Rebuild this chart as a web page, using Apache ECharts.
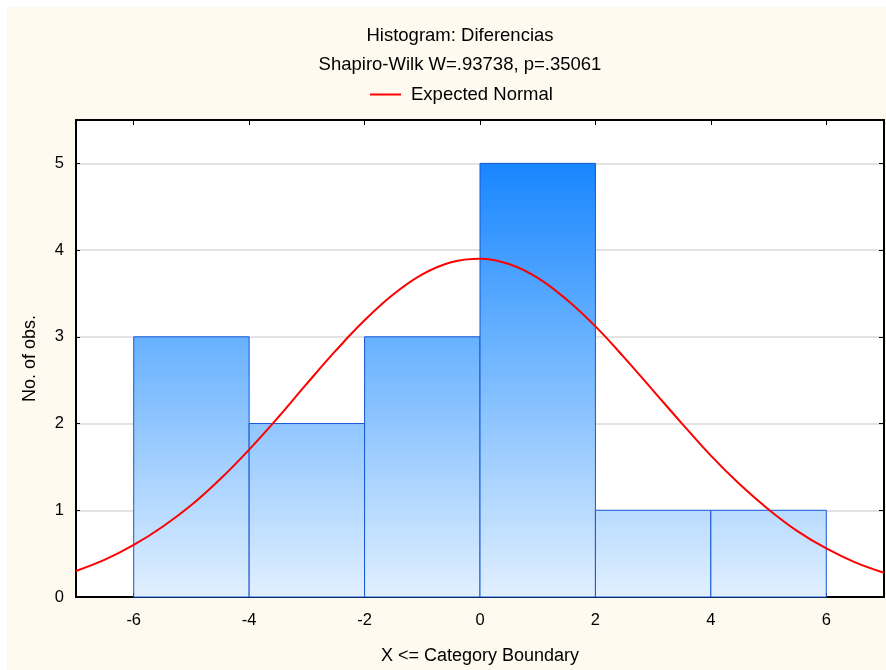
<!DOCTYPE html>
<html>
<head>
<meta charset="utf-8">
<script src="https://cdn.jsdelivr.net/npm/echarts@6/dist/echarts.min.js"></script>
<style>
html,body{margin:0;padding:0;background:#ffffff;}
#c{width:886px;height:670px;}
</style>
</head>
<body>
<div id="c"></div>
<script>
// Histogram bins: [lower boundary, upper boundary]
const binStarts = [-6, -4, -2, 0, 2, 4];
const binEnds   = [-4, -2, 0, 2, 4, 6];
const counts    = [3, 2, 3, 5, 1, 1];

// Expected normal curve
const curveX = [-7,-6.5,-6,-5.5,-5,-4.5,-4,-3.5,-3,-2.5,-2,-1.5,-1,-0.5,0,0.5,1,1.5,2,2.5,3,3.5,4,4.5,5,5.5,6,6.5,7];
const curveY = [0.30,0.43,0.60,0.81,1.06,1.36,1.70,2.07,2.46,2.84,3.19,3.49,3.72,3.86,3.90,3.84,3.68,3.43,3.12,2.76,2.38,2.00,1.63,1.30,1.01,0.76,0.56,0.40,0.28];

const xTicks = [-6, -4, -2, 0, 2, 4, 6];
const yTicks = [0, 1, 2, 3, 4, 5];

const titleText = 'Histogram: Diferencias';
const subText = 'Shapiro-Wilk W=.93738, p=.35061';
const legendText = 'Expected Normal';
const xName = 'X <= Category Boundary';
const yName = 'No. of obs.';

const FONT = '"Liberation Sans", Arial, sans-serif';

const chart = echarts.init(document.getElementById('c'), null, {renderer: 'canvas'});

const histData = binStarts.map((s, i) => [s, binEnds[i], counts[i]]);
const curveData = curveX.map((x, i) => [x, curveY[i]]);

const gradient = new echarts.graphic.LinearGradient(0, 163, 0, 598, [
  {offset: 0, color: '#1886ff'},
  {offset: 0.4, color: '#67b1ff'},
  {offset: 1, color: '#e2f0ff'}
], true);

const option = {
  backgroundColor: '#ffffff',
  animation: false,
  graphic: [{
    type: 'rect', z: -10, silent: true,
    shape: {x: 7, y: 7, width: 879, height: 663},
    style: {fill: '#fefaef'}
  }],
  title: [
    {text: titleText, left: 455, top: 21, textAlign: 'center',
     textStyle: {fontFamily: FONT, fontSize: 18.5, fontWeight: 'normal', color: '#000'}},
    {text: subText, left: 455, top: 50, textAlign: 'center',
     textStyle: {fontFamily: FONT, fontSize: 18.5, fontWeight: 'normal', color: '#000'}}
  ],
  legend: {
    left: 365, top: 80,
    itemWidth: 31, itemHeight: 2,
    itemGap: 8,
    textStyle: {fontFamily: FONT, fontSize: 18.5, color: '#000', padding: [0, 0, 0, 5]},
    data: [{name: legendText, icon: 'rect', itemStyle: {color: '#ff0000'}}]
  },
  grid: {left: 76, top: 120, right: 2, bottom: 72, show: true, backgroundColor: '#ffffff', borderWidth: 0},
  xAxis: [{
    type: 'value', min: -7, max: 7, position: 'bottom',
    name: xName, nameLocation: 'middle', nameGap: 50,
    nameTextStyle: {fontFamily: FONT, fontSize: 18, color: '#000'},
    axisLine: {onZero: false, lineStyle: {color: '#000', width: 2}},
    axisTick: {show: true, inside: true, length: 4, customValues: xTicks, lineStyle: {color: '#000'}},
    axisLabel: {customValues: xTicks, fontFamily: FONT, fontSize: 16.5, color: '#000', margin: 15},
    splitLine: {show: false}
  }, {
    type: 'value', min: -7, max: 7, position: 'top',
    axisLine: {onZero: false, lineStyle: {color: '#000', width: 2}},
    axisTick: {show: true, inside: true, length: 5, customValues: xTicks, lineStyle: {color: '#000'}},
    axisLabel: {show: false},
    splitLine: {show: false}
  }],
  yAxis: [{
    type: 'value', min: 0, max: 5.5, position: 'left',
    name: yName, nameLocation: 'middle', nameGap: 37, nameRotate: 90,
    nameTextStyle: {fontFamily: FONT, fontSize: 18, color: '#000'},
    axisLine: {show: true, onZero: false, lineStyle: {color: '#000', width: 2}},
    axisTick: {show: true, inside: true, length: 4, customValues: yTicks, lineStyle: {color: '#000'}},
    axisLabel: {customValues: yTicks, fontFamily: FONT, fontSize: 16.5, color: '#000', margin: 12},
    splitLine: {show: true, lineStyle: {color: '#e3e3e3', width: 2}}
  }, {
    type: 'value', min: 0, max: 5.5, position: 'right',
    axisLine: {show: true, onZero: false, lineStyle: {color: '#000', width: 2}},
    axisTick: {show: true, inside: true, length: 5, customValues: yTicks, lineStyle: {color: '#000'}},
    axisLabel: {show: false},
    splitLine: {show: false}
  }],
  series: [{
    type: 'custom',
    name: 'hist',
    xAxisIndex: 0, yAxisIndex: 0,
    data: histData,
    renderItem: function (params, api) {
      const p0 = api.coord([api.value(0), 0]);
      const p1 = api.coord([api.value(1), api.value(2)]);
      return {
        type: 'rect',
        shape: {x: p0[0], y: p1[1], width: p1[0] - p0[0], height: p0[1] - p1[1]},
        style: {fill: gradient, stroke: '#1558d6', lineWidth: 1}
      };
    },
    z: 2
  }, {
    type: 'line',
    name: legendText,
    xAxisIndex: 0, yAxisIndex: 0,
    data: curveData,
    smooth: 0.4,
    showSymbol: false,
    lineStyle: {color: '#ff0000', width: 2},
    itemStyle: {color: '#ff0000'},
    z: 3
  }]
};
chart.setOption(option);
</script>
</body>
</html>
